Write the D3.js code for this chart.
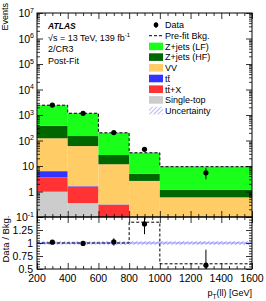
<!DOCTYPE html>
<html>
<head>
<meta charset="utf-8">
<script src="https://cdn.jsdelivr.net/npm/d3@7"></script>
<style>
  body { margin: 0; background: #fff; }
  svg { display: block; font-family: "Liberation Sans", Arial, sans-serif; }
</style>
</head>
<body>
<svg id="chart" width="266" height="301"></svg>
<script>
// bin edges in pT(ll) [GeV]
const binEdges = [200, 400, 600, 800, 1000, 1600];

// post-fit background, events per bin (stack order bottom -> top)
const singleTop = [0.98, 0.35, 0.06, 0.02, 0.01];
const ttX       = [2.6, 1.2, 0.24, 0.03, 0.01];
const ttbar     = [2.7, 0.07, 0.01, 0.0, 0.0];
const vv        = [116, 59, 11.4, 2.55, 0.57];
const zjetsHF   = [258, 89, 15.3, 2.3, 0.56];
const zjetsLF   = [2040, 1020, 173, 28, 8.25];

const prefitBkg   = [2420, 1170, 200, 33, 9.4];
const prefitRatio = [1.0, 1.0, 1.0, 1.40, 0.60];

const dataVals  = [2460, 1160, 204, 45, 5.4];
const dataErrUp = [50, 34, 14, 7, 2.8];
const dataErrDn = [50, 34, 14, 6.5, 2.4];
const relUnc    = [0.035, 0.035, 0.04, 0.04, 0.04];

const yMajor = [1e-1, 1, 10, 1e2, 1e3, 1e4, 1e5, 1e6, 1e7];
const ratioTicks = [0.5, 0.75, 1, 1.25];
const xTicks = [200, 400, 600, 800, 1000, 1200, 1400, 1600];

const procs = [
  { key: "st",  name: "Single-top",   vals: singleTop, color: "#cccccc" },
  { key: "ttx", name: "tt\u0304+X",   vals: ttX,       color: "#ff3333" },
  { key: "tt",  name: "tt\u0304",     vals: ttbar,     color: "#3333ff" },
  { key: "vv",  name: "VV",           vals: vv,        color: "#ffcc66" },
  { key: "hf",  name: "Z+jets (HF)",  vals: zjetsHF,   color: "#006600" },
  { key: "lf",  name: "Z+jets (LF)",  vals: zjetsLF,   color: "#1aff1a" }
];

const svg = d3.select("#chart");
const L = 37, R = 252, T = 13, MB = 217, RB = 269;

const x = d3.scaleLinear().domain([200, 1600]).range([L, R]);
const y = d3.scaleLog().domain([0.1, 1e7]).range([MB, T]);
const yr = d3.scaleLinear().domain([0.5, 1.5]).range([RB, MB]);

const defs = svg.append("defs");
const pat = defs.append("pattern").attr("id", "hatch")
  .attr("patternUnits", "userSpaceOnUse").attr("width", 3).attr("height", 3)
  .attr("patternTransform", "rotate(45)");
pat.append("line").attr("x1", 0).attr("y1", 0).attr("x2", 0).attr("y2", 3)
  .attr("stroke", "#6f6fff").attr("stroke-width", 1);
defs.append("clipPath").attr("id", "clipMain").append("rect")
  .attr("x", L).attr("y", T).attr("width", R - L).attr("height", MB - T);
defs.append("clipPath").attr("id", "clipRatio").append("rect")
  .attr("x", L).attr("y", MB).attr("width", R - L).attr("height", RB - MB);

// stack
const rows = binEdges.slice(0, -1).map((lo, i) => {
  const r = { lo: lo, hi: binEdges[i + 1] };
  procs.forEach(p => r[p.key] = p.vals[i]);
  return r;
});
const series = d3.stack().keys(procs.map(p => p.key))(rows);
const total = rows.map((r, i) => series[series.length - 1][i][1]);

const gMain = svg.append("g").attr("clip-path", "url(#clipMain)");
series.forEach((s, k) => {
  gMain.selectAll(null).data(s).enter().append("rect")
    .attr("x", d => x(d.data.lo))
    .attr("width", d => x(d.data.hi) - x(d.data.lo))
    .attr("y", d => y(Math.max(d[1], 0.1)))
    .attr("height", d => Math.max(0, y(Math.max(d[0], 0.1)) - y(Math.max(d[1], 0.1))))
    .attr("fill", procs[k].color);
});

// uncertainty band on main
gMain.selectAll(null).data(rows).enter().append("rect")
  .attr("x", d => x(d.lo)).attr("width", d => x(d.hi) - x(d.lo))
  .attr("y", (d, i) => y(total[i] * (1 + relUnc[i])))
  .attr("height", (d, i) => y(total[i] * (1 - relUnc[i])) - y(total[i] * (1 + relUnc[i])))
  .attr("fill", "url(#hatch)");

// pre-fit step line
function stepPath(vals, scale) {
  let p = "";
  vals.forEach((v, i) => {
    const x0 = x(binEdges[i]), x1 = x(binEdges[i + 1]), yy = scale(v);
    p += (i === 0 ? "M" : "L") + x0 + "," + yy + "L" + x1 + "," + yy;
  });
  return p;
}
gMain.append("path").attr("d", stepPath(prefitBkg, y))
  .attr("fill", "none").attr("stroke", "#000").attr("stroke-width", 1)
  .attr("stroke-dasharray", "3,2");

// data points main
const centers = rows.map(r => (r.lo + r.hi) / 2);
dataVals.forEach((v, i) => {
  gMain.append("line").attr("x1", x(centers[i])).attr("x2", x(centers[i]))
    .attr("y1", y(v + dataErrUp[i])).attr("y2", y(v - dataErrDn[i]))
    .attr("stroke", "#000").attr("stroke-width", 1);
  gMain.append("circle").attr("cx", x(centers[i])).attr("cy", y(v)).attr("r", 2.6).attr("fill", "#000");
});

// ratio panel
const gRatio = svg.append("g").attr("clip-path", "url(#clipRatio)");
gRatio.selectAll(null).data(rows).enter().append("rect")
  .attr("x", d => x(d.lo)).attr("width", d => x(d.hi) - x(d.lo))
  .attr("y", (d, i) => yr(1 + relUnc[i]))
  .attr("height", (d, i) => yr(1 - relUnc[i]) - yr(1 + relUnc[i]))
  .attr("fill", "url(#hatch)");
gRatio.append("line").attr("x1", L).attr("x2", R).attr("y1", yr(1)).attr("y2", yr(1))
  .attr("stroke", "#6f6fff").attr("stroke-width", 0.8);
gRatio.append("path").attr("d", stepPath(prefitRatio, yr))
  .attr("fill", "none").attr("stroke", "#000").attr("stroke-width", 1)
  .attr("stroke-dasharray", "3,2");
dataVals.forEach((v, i) => {
  const r = v / total[i];
  gRatio.append("line").attr("x1", x(centers[i])).attr("x2", x(centers[i]))
    .attr("y1", yr(r + dataErrUp[i] / total[i])).attr("y2", yr(r - dataErrDn[i] / total[i]))
    .attr("stroke", "#000").attr("stroke-width", 1);
  gRatio.append("circle").attr("cx", x(centers[i])).attr("cy", yr(r)).attr("r", 2.6).attr("fill", "#000");
});

// frames
[[T, MB], [MB, RB]].forEach(([t, b]) => {
  svg.append("rect").attr("x", L).attr("y", t).attr("width", R - L).attr("height", b - t)
    .attr("fill", "none").attr("stroke", "#000").attr("stroke-width", 1);
});

// ticks (inward, all four sides)
function ticks(axisFn, scale, vals, size, transform) {
  svg.append("g").attr("transform", transform)
    .call(axisFn(scale).tickValues(vals).tickSize(-size).tickFormat(""))
    .call(g => g.select(".domain").remove())
    .call(g => g.selectAll("line").attr("stroke", "#000").attr("stroke-width", 0.8));
}
const xMinor = d3.range(200, 1601, 50).filter(v => v % 200 !== 0);
const yMinor = [];
for (let e = -1; e < 7; e++) for (let m = 2; m < 10; m++) yMinor.push(m * Math.pow(10, e));
const rMinor = d3.range(0.5, 1.5001, 0.05).filter(v => Math.abs(v * 4 - Math.round(v * 4)) > 1e-6);
const rMajor = [0.5, 0.75, 1, 1.25, 1.5];

[[MB, T], [RB, MB]].forEach(([b, t]) => {
  ticks(d3.axisBottom, x, xTicks, 6, `translate(0,${b})`);
  ticks(d3.axisBottom, x, xMinor, 3, `translate(0,${b})`);
  ticks(d3.axisTop, x, xTicks, 6, `translate(0,${t})`);
  ticks(d3.axisTop, x, xMinor, 3, `translate(0,${t})`);
});
ticks(d3.axisLeft, y, yMajor, 6, `translate(${L},0)`);
ticks(d3.axisLeft, y, yMinor, 3, `translate(${L},0)`);
ticks(d3.axisRight, y, yMajor, 6, `translate(${R},0)`);
ticks(d3.axisRight, y, yMinor, 3, `translate(${R},0)`);
ticks(d3.axisLeft, yr, rMajor, 6, `translate(${L},0)`);
ticks(d3.axisLeft, yr, rMinor, 3, `translate(${L},0)`);
ticks(d3.axisRight, yr, rMajor, 6, `translate(${R},0)`);
ticks(d3.axisRight, yr, rMinor, 3, `translate(${R},0)`);

// y labels main
yMajor.forEach(v => {
  const e = Math.round(Math.log10(v));
  const t = svg.append("text").attr("x", 34).attr("y", y(v) + 4)
    .attr("text-anchor", "end").attr("font-size", 10.5);
  if (e === 0) t.text("1");
  else if (e === 1) t.text("10");
  else {
    t.append("tspan").text("10");
    t.append("tspan").attr("font-size", 7).attr("dy", -4.5).text(e);
  }
});
// y labels ratio
ratioTicks.forEach(v => {
  svg.append("text").attr("x", 33).attr("y", yr(v) + 4)
    .attr("text-anchor", "end").attr("font-size", 10.5).text(v);
});
// x labels
xTicks.forEach(v => {
  svg.append("text").attr("x", x(v)).attr("y", 282)
    .attr("text-anchor", "middle").attr("font-size", 10.5).text(v);
});

// axis titles
svg.append("text").attr("transform", "translate(8,3) rotate(-90)")
  .attr("text-anchor", "end").attr("font-size", 9).text("Events");
svg.append("text").attr("transform", "translate(9,239) rotate(-90)")
  .attr("text-anchor", "middle").attr("font-size", 9.5).text("Data / Bkg.");
const xl = svg.append("text").attr("x", R).attr("y", 296).attr("text-anchor", "end").attr("font-size", 9);
xl.append("tspan").text("p");
xl.append("tspan").attr("font-size", 6.5).attr("dy", 2.5).text("T");
xl.append("tspan").attr("dy", -2.5).text("(ll) [GeV]");

// ATLAS labels
svg.append("text").attr("x", 48).attr("y", 29).attr("font-size", 8.5)
  .attr("font-weight", "bold").attr("font-style", "italic").text("ATLAS");
const sq = svg.append("text").attr("x", 48).attr("y", 40.5).attr("font-size", 9);
sq.append("tspan").text("\u221As = 13 TeV, 139 fb");
sq.append("tspan").attr("font-size", 6).attr("dy", -3.5).text("-1");
svg.append("text").attr("x", 48).attr("y", 52).attr("font-size", 9).text("2/CR3");
svg.append("text").attr("x", 48).attr("y", 63.5).attr("font-size", 9).text("Post-Fit");

// legend
const legendItems = [
  { name: "Data", type: "data" },
  { name: "Pre-fit Bkg.", type: "dash" },
  ...procs.slice().reverse().map(p => ({ name: p.name, type: "box", color: p.color })),
  { name: "Uncertainty", type: "hatch" }
];
const lx = 149, ly0 = 25, ldy = 10.7;
legendItems.forEach((it, i) => {
  const cy = ly0 + i * ldy;
  if (it.type === "data") {
    svg.append("line").attr("x1", lx + 7).attr("x2", lx + 7).attr("y1", cy - 3).attr("y2", cy + 3)
      .attr("stroke", "#000");
    svg.append("circle").attr("cx", lx + 7).attr("cy", cy).attr("r", 2.4).attr("fill", "#000");
  } else if (it.type === "dash") {
    svg.append("line").attr("x1", lx).attr("x2", lx + 14).attr("y1", cy).attr("y2", cy)
      .attr("stroke", "#000").attr("stroke-dasharray", "3,2");
  } else {
    svg.append("rect").attr("x", lx).attr("y", cy - 3.8).attr("width", 14).attr("height", 7.6)
      .attr("fill", it.type === "hatch" ? "url(#hatch)" : it.color);
  }
  svg.append("text").attr("x", 165).attr("y", cy + 3.3).attr("font-size", 9).text(it.name);
});
</script>
</body>
</html>
